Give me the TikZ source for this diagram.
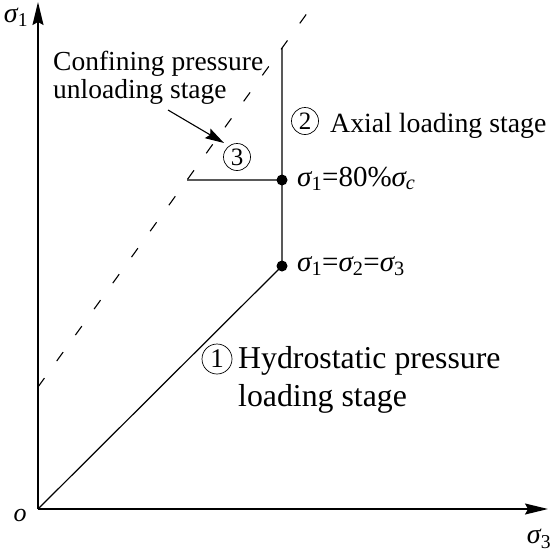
\documentclass[tikz,border=0pt]{standalone}
\usepackage{fontspec}
\setmainfont{Liberation Serif}
\usetikzlibrary{arrows.meta}
\newcommand{\sg}[1]{{\itshape σ}\textsubscript{#1}}
\begin{document}
\begin{tikzpicture}[x=1pt,y=-1pt,
  axis/.style={line width=1.4pt,-{Stealth[length=23pt,width=11pt,inset=3pt]}},
  path/.style={line width=1.2pt},
  dashline/.style={line width=1.1pt,dash pattern=on 11pt off 21pt},
  pointer/.style={line width=1.1pt,-{Stealth[length=19pt,width=11pt,inset=3pt]}},
  dotnode/.style={circle,fill=black,minimum size=11pt,inner sep=0pt},
  circnum/.style={circle,draw,line width=0.7pt,inner sep=0pt},
  lbl/.style={inner sep=0pt,anchor=base west}]
\useasboundingbox (0,0) rectangle (553,552);
\coordinate (O) at (38,509);
\coordinate (Ytip) at (38,2);
\coordinate (Xtip) at (548,509);
\coordinate (D1) at (38,387);
\coordinate (D2) at (313,5);
\node[dotnode] (H) at (282,266) {};
\node[dotnode] (C) at (282,180) {};
\coordinate (Vt) at (intersection of D1--D2 and 282,266--282,0);
\coordinate (Hl) at (intersection of D1--D2 and 282,180--0,180);
% axes
\draw[axis] (O) -- (Ytip);
\draw[axis] (O) -- (Xtip);
% paths
\draw[path] (O) -- (H.center);
\draw[path] (H.center) -- (Vt);
\draw[path] (C.center) -- (Hl);
\draw[dashline] (D1) -- (D2);
% axis labels
\node[inner sep=0pt,font=\fontsize{28}{28}\selectfont] (s1) at (16,17) {\sg{1}};
\node[inner sep=0pt,font=\fontsize{28}{28}\selectfont] (s3) at (539,539) {\sg{3}};
\node[inner sep=0pt,font=\fontsize{26}{26}\selectfont\itshape] (o) at (20,515) {o};
% confining label
\node[lbl,font=\fontsize{27.5}{27}\selectfont] (cf1) at (53,70) {Confining pressure};
\node[lbl,font=\fontsize{27.5}{27}\selectfont] (cf2) at (53,98) {unloading stage};
\coordinate (Ptip) at (224,143);
\draw[pointer] (168,110) -- (Ptip);
\node[circnum,minimum size=27pt,font=\fontsize{25}{25}\selectfont] (c3) at (237,157) {3};
% axial
\node[circnum,minimum size=27pt,font=\fontsize{25}{25}\selectfont] (c2) at (305,121) {2};
\node[lbl,font=\fontsize{27.8}{28}\selectfont] (ax) at (330,132) {Axial loading stage};
% stress labels
\node[lbl,font=\fontsize{29}{29}\selectfont] (l80) at (297,186) {\sg{1}=80\%{\itshape σ\textsubscript{c}}};
\node[lbl,font=\fontsize{29}{29}\selectfont] (leq) at (297,271) {\sg{1}=\sg{2}=\sg{3}};
% hydrostatic
\node[circnum,minimum size=30pt,font=\fontsize{27}{27}\selectfont] (c1) at (217,359) {1};
\node[lbl,font=\fontsize{31.8}{32}\selectfont] (hy1) at (238,368) {Hydrostatic pressure};
\node[lbl,font=\fontsize{31.8}{32}\selectfont] (hy2) at (238,406) {loading stage};
\end{tikzpicture}
\end{document}
